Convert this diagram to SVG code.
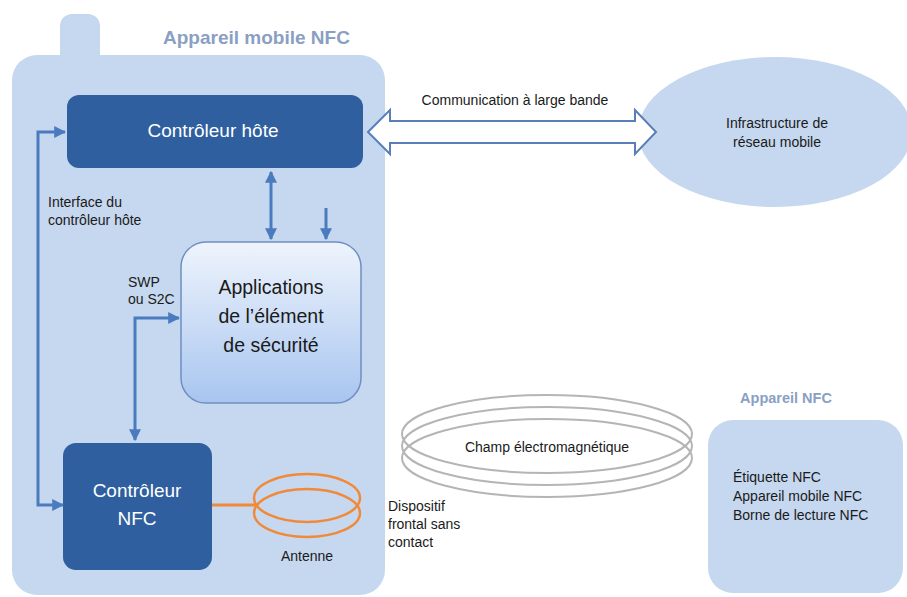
<svg xmlns="http://www.w3.org/2000/svg" width="907" height="597" viewBox="0 0 907 597">
<style>
.t{font-family:"Liberation Sans",Arial,sans-serif;}
.sm{font-size:14px;fill:#1a1a1a;}
.big{font-size:19px;fill:#ffffff;}
.ttl{font-weight:bold;fill:#8aa0c3;}
.dark{fill:#2f5f9e;}
.lt{fill:#c6d8ef;}
.conn{stroke:#4a7bbf;stroke-width:3;fill:none;}
</style>
<defs>
<marker id="ah" viewBox="0 0 10 10" refX="9" refY="5" markerWidth="4" markerHeight="4" orient="auto-start-reverse">
<path d="M0,0 L10,5 L0,10 z" fill="#4a7bbf"/>
</marker>
<linearGradient id="g" x1="0" y1="0" x2="0" y2="1">
<stop offset="0" stop-color="#eef4fc"/>
<stop offset="1" stop-color="#a8c5f0"/>
</linearGradient>
</defs>
<rect width="907" height="597" fill="#ffffff"/>

<g id="phone">
<rect class="lt" x="60" y="14" width="40" height="60" rx="12"/>
<rect class="lt" x="12" y="55" width="373" height="540" rx="25"/>
<text class="t ttl" x="163" y="44" font-size="19">Appareil mobile NFC</text>
</g>

<g id="host">
<rect class="dark" x="67" y="95" width="296" height="73" rx="12"/>
<text class="t big" x="213" y="137" text-anchor="middle">Contrôleur hôte</text>
</g>

<g id="se">
<rect x="181" y="242" width="180" height="161" rx="25" fill="url(#g)" stroke="#6f8fc0" stroke-width="1.5"/>
<text class="t" x="271" y="294" text-anchor="middle" font-size="19.5" fill="#1a1a1a">Applications</text>
<text class="t" x="271" y="323" text-anchor="middle" font-size="19.5" fill="#1a1a1a">de l’élément</text>
<text class="t" x="271" y="352" text-anchor="middle" font-size="19.5" fill="#1a1a1a">de sécurité</text>
</g>

<g id="nfc">
<rect class="dark" x="63" y="443" width="149" height="127" rx="13"/>
<text class="t big" x="137" y="497" text-anchor="middle">Contrôleur</text>
<text class="t big" x="137" y="525" text-anchor="middle">NFC</text>
</g>

<g id="antenna">
<ellipse cx="307" cy="498" rx="53" ry="24" fill="none" stroke="#f08a3a" stroke-width="2.5"/>
<ellipse cx="307" cy="513" rx="53" ry="24" fill="none" stroke="#f08a3a" stroke-width="2.5"/>
<text class="t sm" x="307" y="561" text-anchor="middle" font-size="13">Antenne</text>
</g>

<g id="network">
<ellipse class="lt" cx="775" cy="132" rx="137" ry="75"/>
<text class="t sm" x="777" y="128" text-anchor="middle">Infrastructure de</text>
<text class="t sm" x="777" y="147" text-anchor="middle">réseau mobile</text>
</g>

<g id="field">
<ellipse cx="547" cy="434" rx="145" ry="39" fill="none" stroke="#b5b5b5" stroke-width="2"/>
<ellipse cx="547" cy="446" rx="145" ry="39" fill="none" stroke="#b5b5b5" stroke-width="2"/>
<ellipse cx="547" cy="458" rx="145" ry="39" fill="none" stroke="#b5b5b5" stroke-width="2"/>
<text class="t sm" x="547" y="452" text-anchor="middle">Champ électromagnétique</text>
</g>

<g id="frontend">
<text class="t sm" x="388" y="511">Dispositif</text>
<text class="t sm" x="388" y="529">frontal sans</text>
<text class="t sm" x="388" y="547">contact</text>
</g>

<g id="nfcdevice">
<text class="t ttl" x="786" y="403" font-size="14.5" text-anchor="middle">Appareil NFC</text>
<rect class="lt" x="708" y="420" width="195" height="173" rx="25"/>
<text class="t sm" x="733" y="482">Étiquette NFC</text>
<text class="t sm" x="733" y="501">Appareil mobile NFC</text>
<text class="t sm" x="733" y="520">Borne de lecture NFC</text>
</g>

<g id="connectors">
<path class="conn" d="M271,172 L271,239" marker-start="url(#ah)" marker-end="url(#ah)"/>
<path class="conn" d="M326,208 L326,239" marker-end="url(#ah)"/>
<path class="conn" d="M63,505 L38,505 L38,132 L65,132" marker-start="url(#ah)" marker-end="url(#ah)"/>
<path class="conn" d="M135,440 L135,318 L179,318" marker-start="url(#ah)" marker-end="url(#ah)"/>
<line x1="212" y1="505" x2="256" y2="505" stroke="#f08a3a" stroke-width="3"/>
<path d="M368,132 L390,110 L390,121 L635,121 L635,110 L656,132 L635,154 L635,143 L390,143 L390,154 Z" fill="#ffffff" stroke="#5a7fb8" stroke-width="2"/>
<text class="t sm" x="515" y="105" text-anchor="middle" font-size="13.5">Communication à large bande</text>
<text class="t sm" x="48" y="207" font-size="13.5">Interface du</text>
<text class="t sm" x="48" y="225" font-size="13.5">contrôleur hôte</text>
<text class="t sm" x="128" y="287" font-size="13">SWP</text>
<text class="t sm" x="128" y="304" font-size="13">ou S2C</text>
</g>
</svg>
